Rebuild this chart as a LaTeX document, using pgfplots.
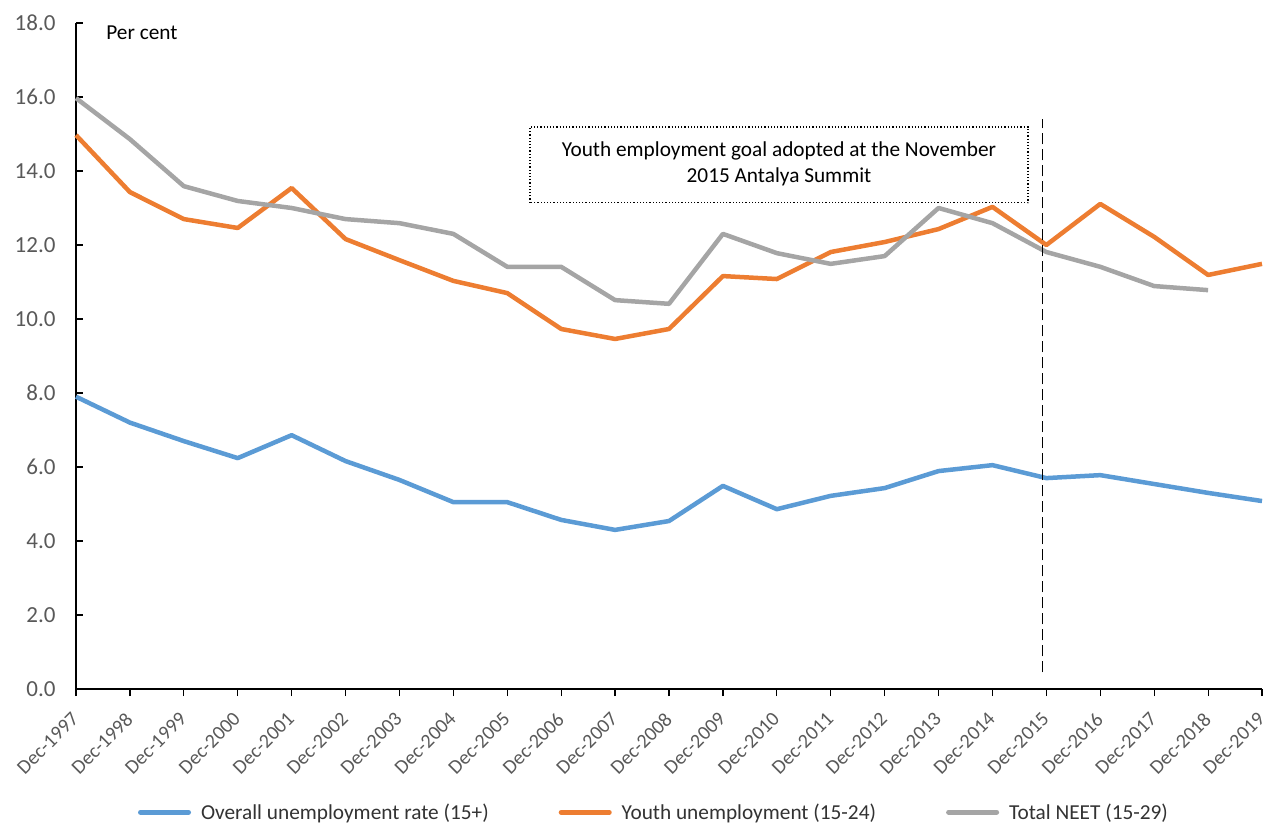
\documentclass[border=0pt]{standalone}
\usepackage{fontspec}
\setmainfont{Carlito}
\usepackage{pgfplots}
\pgfplotsset{compat=1.18}
\usepackage{pgfplotstable}

\definecolor{cblue}{HTML}{5B9BD5}
\definecolor{corange}{HTML}{ED7D31}
\definecolor{cgray}{HTML}{A5A5A5}
\definecolor{ticktxt}{HTML}{595959}

% index 0 = Dec-1997 ... 22 = Dec-2019
\pgfplotstableread{
x overall youth
0  7.9  14.97
1  7.2  13.43
2  6.7  12.70
3  6.24 12.46
4  6.86 13.54
5  6.16 12.16
6  5.65 11.59
7  5.05 11.03
8  5.05 10.70
9  4.57 9.73
10 4.30 9.46
11 4.54 9.73
12 5.49 11.16
13 4.86 11.08
14 5.22 11.81
15 5.43 12.08
16 5.89 12.43
17 6.05 13.03
18 5.70 12.00
19 5.78 13.11
20 5.54 12.22
21 5.30 11.19
22 5.08 11.49
}\unemp

\pgfplotstableread{
x neet
0  15.97
1  14.86
2  13.59
3  13.19
4  13.00
5  12.70
6  12.59
7  12.30
8  11.41
9  11.41
10 10.51
11 10.41
12 12.30
13 11.78
14 11.49
15 11.70
16 13.00
17 12.59
18 11.81
19 11.41
20 10.89
21 10.78
}\neet

\begin{document}
\begin{tikzpicture}[font=\fontsize{21.3}{25.5}\selectfont]
  \begin{axis}[
      scale only axis,
      width=1186pt, height=666pt,
      axis lines*=left,
      axis line style={black, line width=1.2pt},
      clip=false,
      xmin=0, xmax=22,
      ymin=0, ymax=18,
      xtick={0,...,22},
      xticklabels={Dec-1997,Dec-1998,Dec-1999,Dec-2000,Dec-2001,Dec-2002,Dec-2003,Dec-2004,Dec-2005,Dec-2006,Dec-2007,Dec-2008,Dec-2009,Dec-2010,Dec-2011,Dec-2012,Dec-2013,Dec-2014,Dec-2015,Dec-2016,Dec-2017,Dec-2018,Dec-2019},
      xticklabel style={xshift=-5.5pt, yshift=-15pt, rotate=45, anchor=north east,
        text=ticktxt, inner sep=0pt, font=\fontsize{20}{24}\selectfont},
      ytick={0,2,...,18},
      yticklabel style={text=ticktxt, xshift=-17pt, font=\fontsize{23}{27}\selectfont},
      /pgf/number format/assume math mode=true,
      yticklabel={\pgfmathprintnumber[fixed, fixed zerofill, precision=1]{\tick}},
      x tick style={black, line width=1.2pt},
      y tick style={black, line width=1.2pt},
      major tick length=7pt,
      xtick align=outside,
      ytick align=inside,
      legend columns=3,
      legend style={at={(0.5,-0.185)}, xshift=-15pt, anchor=center, draw=none, text=black!80,
        /tikz/every odd column/.append style={column sep=8pt},
        /tikz/every even column/.append style={column sep=68pt}},
      legend image code/.code={\draw[#1, line width=5pt, line cap=round] (0pt,0pt) -- (48pt,0pt);},
    ]
    \addplot[cblue, line width=4.5pt, line join=round] table[x=x, y=overall] {\unemp};
    \addlegendentry{Overall unemployment rate (15+)}
    \addplot[corange, line width=4.5pt, line join=round] table[x=x, y=youth] {\unemp};
    \addlegendentry{Youth unemployment (15-24)}
    \addplot[cgray, line width=4.5pt, line join=round] table[x=x, y=neet] {\neet};
    \addlegendentry{Total NEET (15-29)}

    \draw[black, line width=1.2pt, dash pattern=on 11pt off 5pt] (axis cs:17.93,0.45) -- (axis cs:17.93,15.4);
    \draw[black, line width=1.2pt, dotted] (axis cs:8.42,13.14) rectangle (axis cs:17.66,15.19);
    \node[align=center, inner sep=0pt, text=black] at (axis cs:13.04,14.2)
      {Youth employment goal adopted at the November\\[0pt]2015 Antalya Summit};
    \node[anchor=west, inner sep=0pt, text=black] at (axis cs:0.56,17.73) {Per cent};
  \end{axis}
  \pgfresetboundingbox
  \path[use as bounding box] ([shift={(-76pt,-134pt)}]current axis.south west) rectangle ([shift={(2pt,23pt)}]current axis.north east);
\end{tikzpicture}
\end{document}
